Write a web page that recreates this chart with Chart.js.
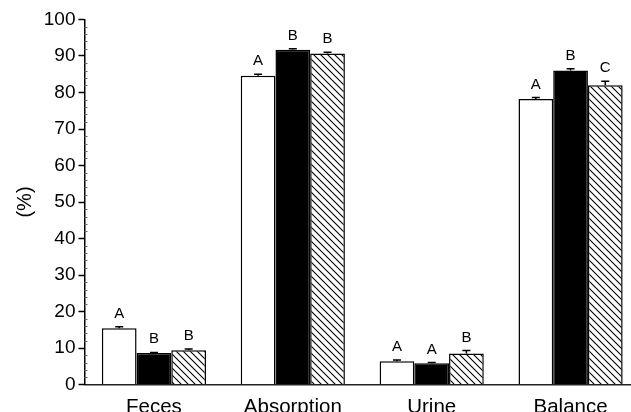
<!DOCTYPE html>
<html>
<head>
<meta charset="utf-8">
<script src="https://cdn.jsdelivr.net/npm/chart.js@4/dist/chart.umd.min.js"></script>
<style>
  html, body { margin: 0; padding: 0; background: #fff; overflow: hidden; }
  #wrap { width: 640px; height: 412px; }
</style>
</head>
<body>
<div id="wrap"><canvas id="c" width="640" height="412"></canvas></div>
<script>
// Categories and per-group values (%)
const categories = ['Feces', 'Absorption', 'Urine', 'Balance'];
const yTicks = [0, 10, 20, 30, 40, 50, 60, 70, 80, 90, 100];

const group1Values = [15.4, 84.6, 6.4, 78.2];
const group2Values = [8.6, 91.7, 5.8, 86.0];
const group3Values = [9.4, 90.7, 8.5, 82.0];

// Standard errors (upper caps only)
const group1Errors = [0.4, 0.4, 0.3, 0.4];
const group2Errors = [0.2, 0.3, 0.2, 0.5];
const group3Errors = [0.3, 0.3, 0.8, 1.1];

// Significance letters
const group1Letters = ['A', 'A', 'A', 'A'];
const group2Letters = ['B', 'B', 'A', 'B'];
const group3Letters = ['B', 'B', 'B', 'C'];

const FONT = "'Liberation Sans', Arial, Helvetica, sans-serif";

// Diagonal hatch fill (top-left to bottom-right)
function makeHatch() {
  const s = 7;
  const p = document.createElement('canvas');
  p.width = s; p.height = s;
  const g = p.getContext('2d');
  g.fillStyle = '#fff';
  g.fillRect(0, 0, s, s);
  g.strokeStyle = '#000';
  g.lineWidth = 1.1;
  g.beginPath();
  g.moveTo(-1, -1); g.lineTo(s + 1, s + 1);
  g.moveTo(-1, s - 1); g.lineTo(1, s + 1);
  g.moveTo(s - 1, -1); g.lineTo(s + 1, 1);
  g.stroke();
  return g.createPattern(p, 'repeat');
}

const ctx = document.getElementById('c').getContext('2d');
const hatch = makeHatch();

const errorsBySet = [group1Errors, group2Errors, group3Errors];
const lettersBySet = [group1Letters, group2Letters, group3Letters];

// Upper error caps and letters above each bar
const annotate = {
  id: 'annotate',
  afterDatasetsDraw(chart) {
    const c = chart.ctx;
    const y = chart.scales.y;
    c.save();
    chart.data.datasets.forEach((ds, i) => {
      const meta = chart.getDatasetMeta(i);
      meta.data.forEach((bar, j) => {
        const v = ds.data[j];
        const e = errorsBySet[i][j];
        const yTop = y.getPixelForValue(v + e);
        const yBar = y.getPixelForValue(v);
        c.strokeStyle = '#000';
        c.lineWidth = 1.5;
        c.beginPath();
        c.moveTo(bar.x, yBar);
        c.lineTo(bar.x, yTop);
        c.moveTo(bar.x - 4, yTop);
        c.lineTo(bar.x + 4, yTop);
        c.stroke();
        c.fillStyle = '#000';
        c.font = '15px ' + FONT;
        c.textAlign = 'center';
        c.textBaseline = 'alphabetic';
        c.fillText(lettersBySet[i][j], bar.x, yTop - 9);
      });
    });
    c.restore();
  }
};

// Minor ticks every 2 % on the inner side of the value axis
const minorTicks = {
  id: 'minorTicks',
  afterDraw(chart) {
    const c = chart.ctx;
    const y = chart.scales.y;
    const x0 = chart.chartArea.left;
    c.save();
    c.strokeStyle = '#666';
    c.lineWidth = 1;
    c.beginPath();
    for (let v = 2; v < 100; v += 2) {
      if (v % 10 === 0) continue;
      const py = Math.round(y.getPixelForValue(v)) + 0.5;
      c.moveTo(x0, py);
      c.lineTo(x0 + 3, py);
    }
    c.stroke();
    c.restore();
  }
};

new Chart(ctx, {
  type: 'bar',
  data: {
    labels: categories,
    datasets: [
      { label: 'Group 1', data: group1Values, backgroundColor: '#fff', borderColor: '#000', borderWidth: 1.5 },
      { label: 'Group 2', data: group2Values, backgroundColor: '#000', borderColor: '#000', borderWidth: 1.5 },
      { label: 'Group 3', data: group3Values, backgroundColor: hatch, borderColor: '#000', borderWidth: 1.5 }
    ]
  },
  options: {
    responsive: false,
    animation: false,
    events: [],
    layout: { padding: { left: 0, right: 0, top: 19.5, bottom: 0 } },
    datasets: { bar: { categoryPercentage: 0.75, barPercentage: 1.0 } },
    plugins: { legend: { display: false }, tooltip: { enabled: false } },
    scales: {
      x: {
        grid: { display: false },
        border: { display: true, color: '#222', width: 1.5 },
        ticks: { color: '#000', font: { family: FONT, size: 20.5 }, padding: 2.5, maxRotation: 0 },
        afterFit(scale) { scale.height = 27.5; }
      },
      y: {
        min: 0,
        max: 100,
        afterBuildTicks(scale) { scale.ticks = yTicks.map(v => ({ value: v })); },
        grid: { display: true, drawOnChartArea: false, drawTicks: true, tickLength: 6, tickColor: '#000', tickWidth: 1.5 },
        border: { display: true, color: '#000', width: 1.5 },
        ticks: { color: '#000', font: { family: FONT, size: 19 }, padding: 3 },
        title: { display: true, text: '(%)', color: '#000', font: { family: FONT, size: 20 }, padding: { top: 13, bottom: 0 } },
        afterFit(scale) { scale.width = 84.5; }
      }
    }
  },
  plugins: [annotate, minorTicks]
});
</script>
</body>
</html>
